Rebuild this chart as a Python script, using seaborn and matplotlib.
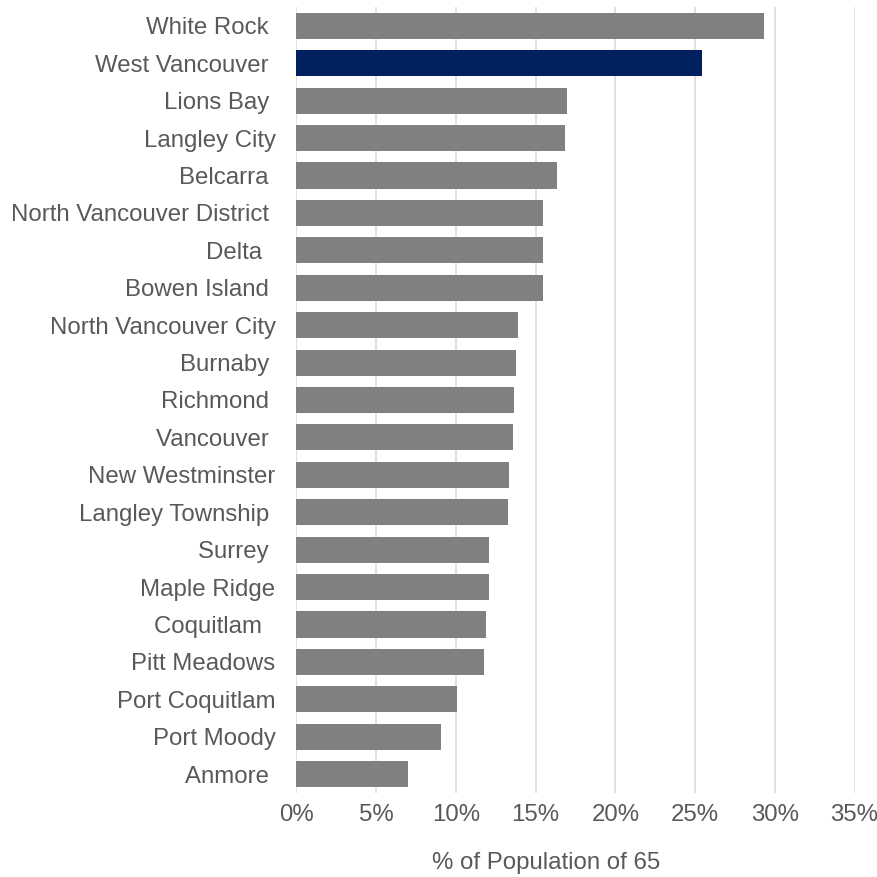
import matplotlib
matplotlib.use("Agg")
import matplotlib.pyplot as plt
import seaborn as sns
import pandas as pd
from matplotlib.ticker import PercentFormatter, MultipleLocator

# data
places = ["White Rock ", "West Vancouver ", "Lions Bay ", "Langley City",
          "Belcarra ", "North Vancouver District ", "Delta  ", "Bowen Island ",
          "North Vancouver City", "Burnaby ", "Richmond ", "Vancouver ",
          "New Westminster", "Langley Township ", "Surrey ", "Maple Ridge",
          "Coquitlam  ", "Pitt Meadows", "Port Coquitlam", "Port Moody",
          "Anmore "]
share_65 = [0.2935, 0.2544, 0.1697, 0.1687, 0.1634, 0.1549, 0.1549, 0.1549,
            0.1387, 0.1377, 0.1367, 0.1356, 0.1335, 0.1327, 0.1208, 0.1208,
            0.1189, 0.1178, 0.1009, 0.0909, 0.0697]
highlight = "West Vancouver "

df = pd.DataFrame({"place": places, "share": share_65})
palette = {p: ("#002060" if p == highlight else "#808080") for p in places}

sns.set_style("white")
plt.rcParams["font.family"] = ["Liberation Sans", "DejaVu Sans"]

fig = plt.figure(figsize=(8.77, 8.77), dpi=100)
ax = fig.add_axes([0.338, 0.0961, 0.6364, 0.8956])

sns.barplot(data=df, x="share", y="place", hue="place", palette=palette,
            order=places, legend=False, width=0.7, saturation=1,
            edgecolor="none", ax=ax)

ax.set_xlim(0, 0.35)
ax.set_ylim(len(places) - 0.5, -0.5)
ax.xaxis.set_major_locator(MultipleLocator(0.05))
ax.xaxis.set_major_formatter(PercentFormatter(1.0, decimals=0))
ax.grid(axis="x", color="#d9d9d9", linewidth=1.1)
ax.set_axisbelow(True)
for s in ax.spines.values():
    s.set_visible(False)

ax.tick_params(axis="y", length=0, pad=15, labelsize=17.3, labelcolor="#595959")
ax.tick_params(axis="x", length=0, pad=8, labelsize=17.3, labelcolor="#595959")
ax.set_ylabel("")
ax.set_xlabel("% of Population of 65", fontsize=17.3, color="#595959")
ax.xaxis.set_label_coords(0.447, -0.0895)
ax.xaxis.label.set_va("center")

fig.savefig("out.png", dpi=100)
